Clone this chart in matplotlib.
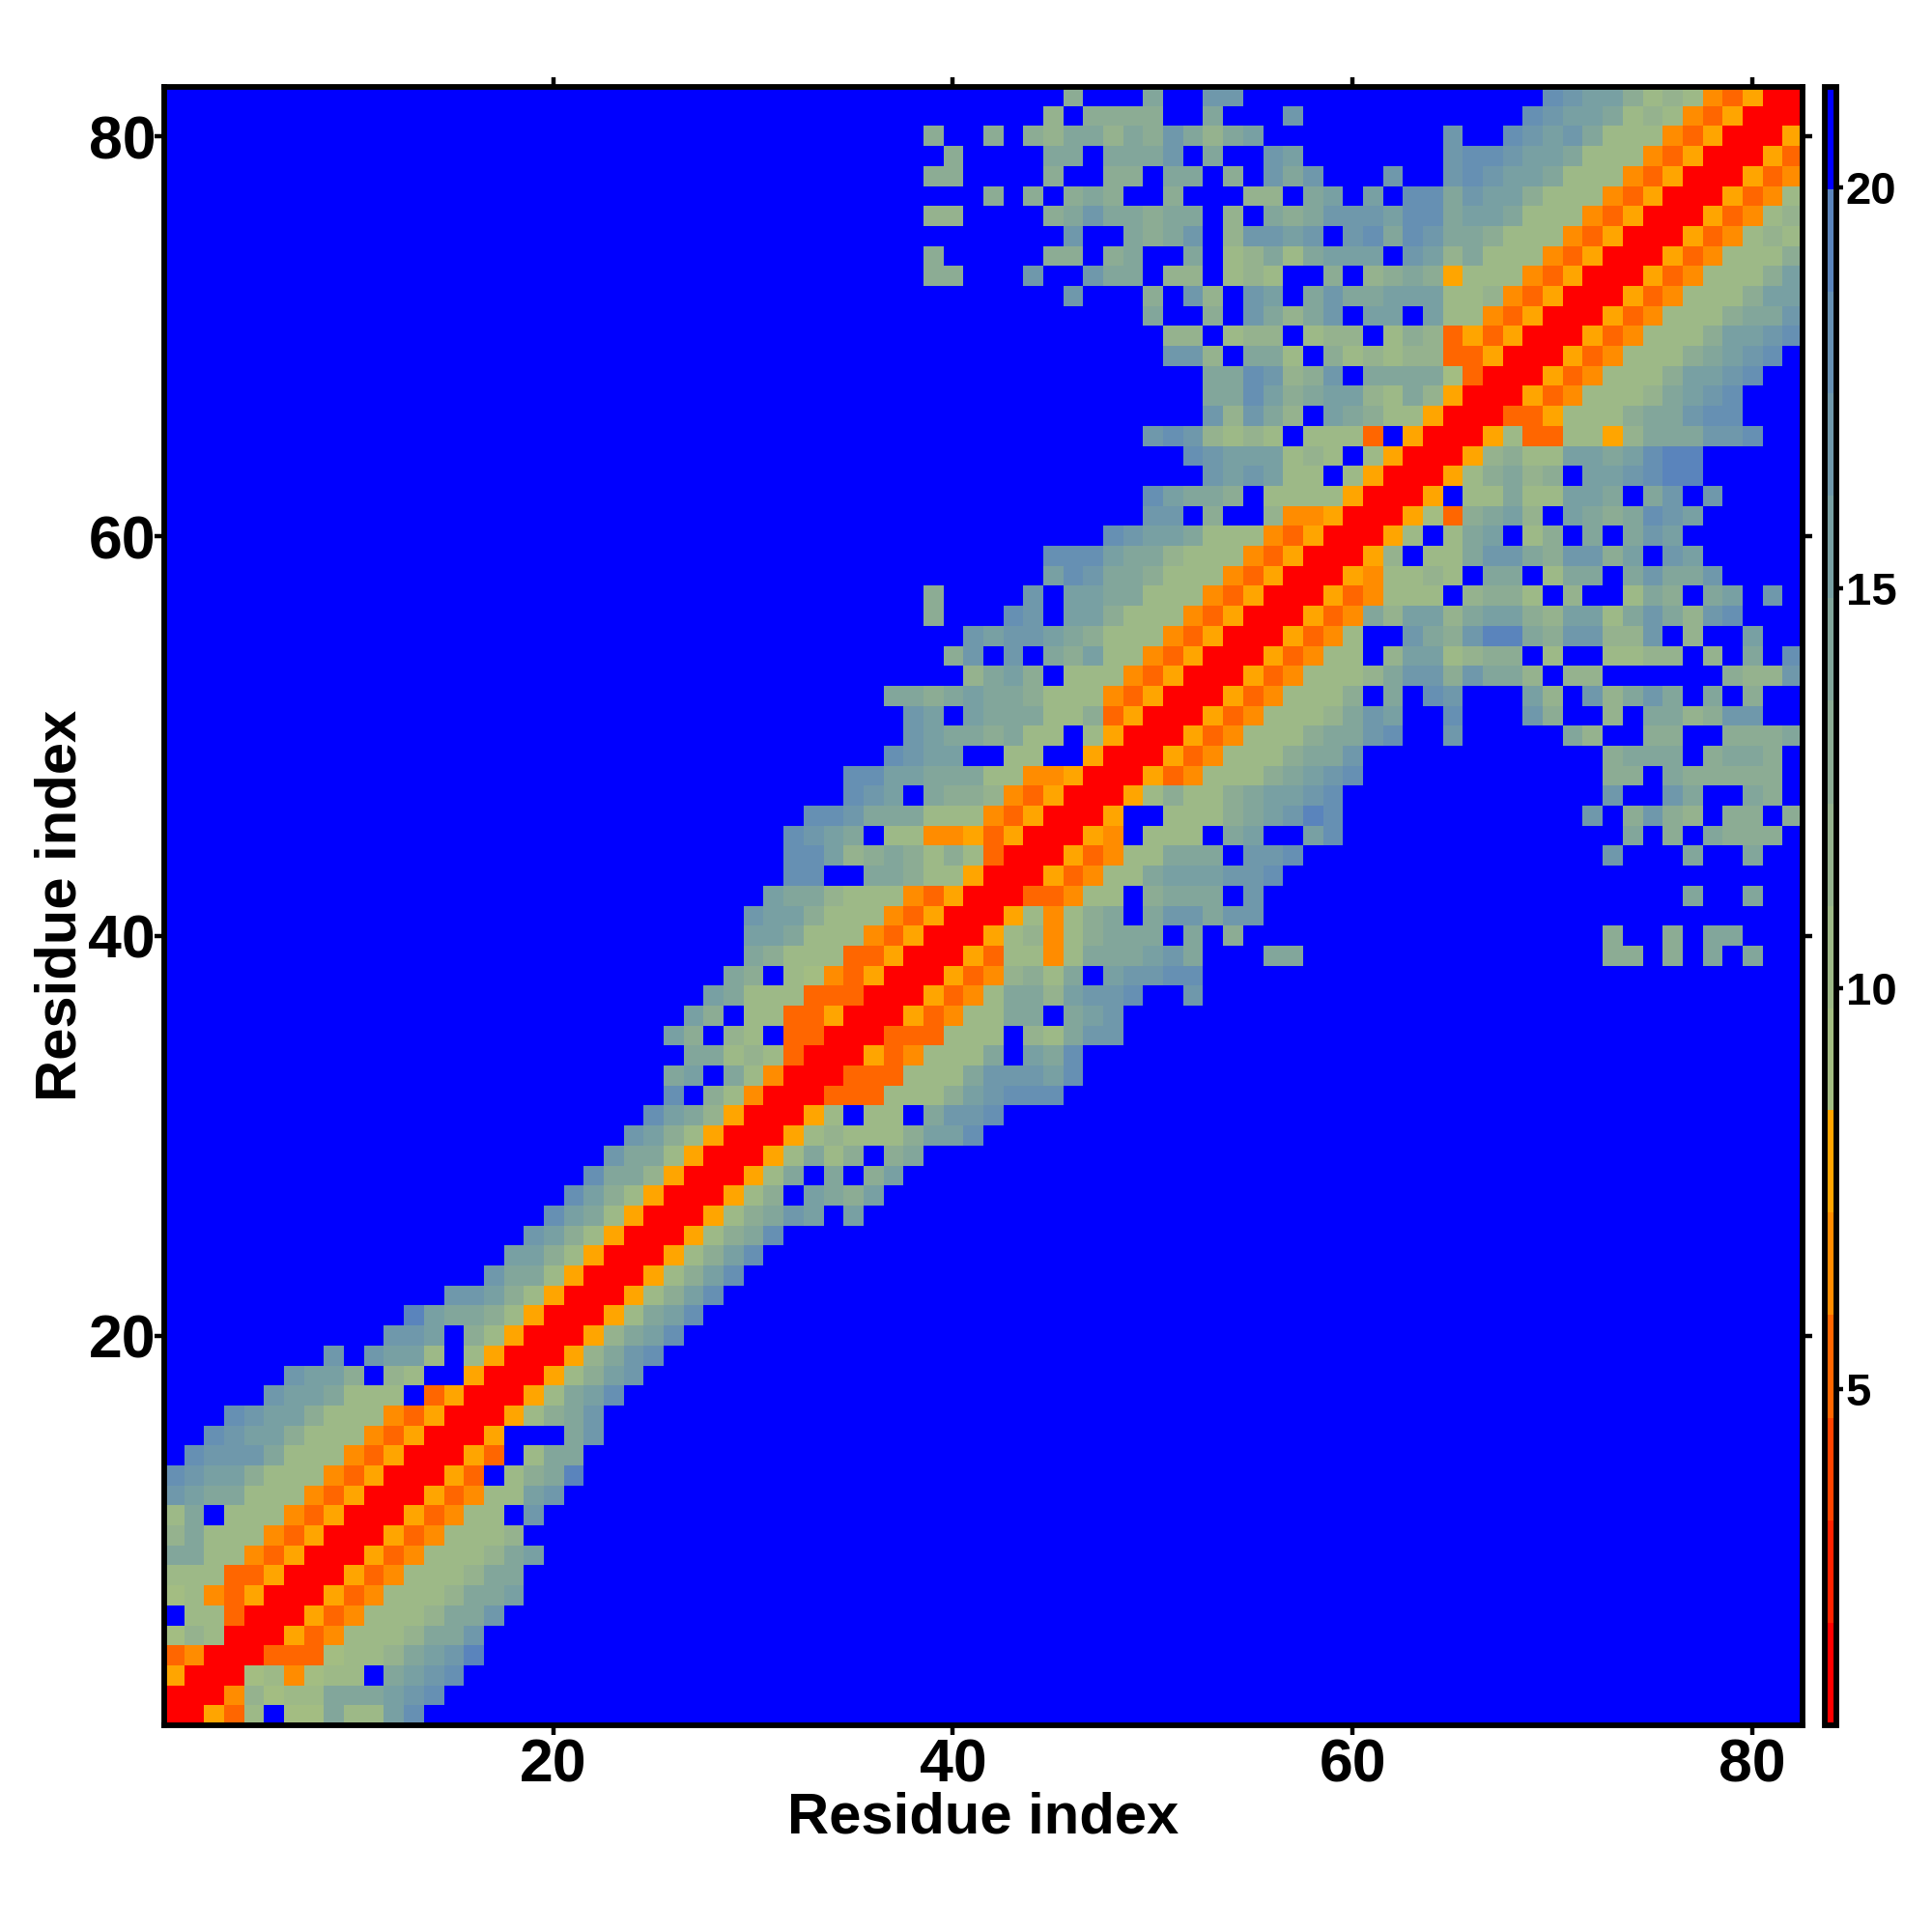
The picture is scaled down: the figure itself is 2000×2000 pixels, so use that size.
import matplotlib
matplotlib.use('Agg')
import matplotlib.pyplot as plt
from matplotlib.colors import ListedColormap, BoundaryNorm
import numpy as np

plt.rcParams['font.family'] = ['Liberation Sans', 'DejaVu Sans']
plt.rcParams['font.weight'] = 'bold'

n_res = 82

# colour bands of the scale, bottom to top
band_edges = [0.80, 2.08, 3.36, 4.64, 5.92, 7.20, 8.48, 9.75, 11.03, 12.31,
              13.59, 14.87, 16.15, 17.43, 18.70, 19.98, 21.26]
band_values = [1.5, 2.7, 4.0, 5.3, 6.6, 7.8, 9.1, 10.4, 11.7, 12.9,
               14.2, 15.5, 16.8, 18.0, 19.3, 20.6]
band_colors = ['#ff0000', '#ff2200', '#ff4400', '#ff6600', '#ff8c00', '#ffa500',
               '#a3bd82', '#9db987', '#95b28e', '#8cac94', '#82a69b', '#78a0a3',
               '#6f98ab', '#6690b3', '#5a84bc', '#0000ff']
band_codes = '012345' + '6789abcde' + '.'

# one character per cell (index into band_codes), (first column, cells) per residue row
rows = {
    1: [(1, "00537.66a77bd")],
    2: [(1, "00048677aaabcd")],
    3: [(1, "5000674677.abcd")],
    4: [(1, "340003336778abce")],
    5: [(1, "6870005347778aac")],
    6: [(1, ".7730005347778aac")],
    7: [(1, "674350005347778aab")],
    8: [(1, "7773350005347778aa")],
    9: [(1, "aa774350005347778ab")],
    10: [(1, "8a7774350005347778")],
    11: [(1, "7a.77743500053477.c")],
    12: [(1, "cbaa77743500053477bc")],
    13: [(1, "dcbb977743500053.79ae")],
    14: [(1, ".dccca77743500053.7aa")],
    15: [(1, "..dcbb97774350005...ac")],
    16: [(1, "...dcbb9777435000579ac")],
    17: [(6, "cbba777.3500057abd")],
    18: [(7, "cbb9.87..5000579bc")],
    19: [(9, "c.cbb7.7500058acd")],
    20: [(12, "ccb.97500058abd")],
    21: [(13, "ebaa97500057abd")],
    22: [(15, "ccb975000579bd")],
    23: [(17, "caa75000579bd")],
    24: [(18, "bb975000579bd")],
    25: [(19, "cb975000579ad")],
    26: [(20, "dba75000579acb.b")],
    27: [(21, "db975000579.ba9b")],
    28: [(22, "daa8500057a.a.9b")],
    29: [(23, "caa7500057a79.9a")],
    30: [(24, "cb9750005787779bbd")],
    31: [(25, "dba8500057.77.accd")],
    32: [(26, "d.9740003337779bcddd")],
    33: [(26, "ab.a74000333777acccbd")],
    34: [(27, "aa7873000534777a.bad")],
    35: [(26, "b9.87.33000333777.87acc")],
    36: [(27, "b9.7733500053477aa.abc")],
    37: [(28, "ba7773330005347aa8bccd..c")],
    38: [(29, "a9.76435000534897a.bccdd")],
    39: [(30, "a9777335000537747aaabca...aa"), (73, "99.9"), (78, "a"), (80, "a")],
    40: [(30, "bba777435000578479aaa.a.9"), (73, "9"), (76, "9"), (78, "aa")],
    41: [(30, "cbb977743500057479a.accacc")],
    42: [(31, "baa877743500033477.9aaa.c"), (77, "a"), (80, "a")],
    43: [(32, "dd..aa977500053477abbbccd")],
    44: [(32, "ddb89a9797300053477aaa.ccd"), (73, "c"), (77, "a"), (80, "a")],
    45: [(32, "dcba.774453500054.777.ab..bd"), (74, "a.9.a999")],
    46: [(33, "ddcaaa7774350005..7779abced"), (72, "c.9c98.99.9")],
    47: [(35, "dcb.a998435000579779abbcd"), (73, "c..ca..a9")],
    48: [(35, "ddbbaaa774450005347779abcd"), (73, "99.a99999")],
    49: [(37, "dcbb..77..50005347779aac"), (73, "9aaa.9aa9")],
    50: [(38, "cbaa9a77.750005347779aacd"), (65, "c"), (71, "a8..99..999a")],
    51: [(38, "cb.baaa779350005347778acb"), (65, "d"), (69, "c9..8.aa89cc")],
    52: [(37, "aa9abaa97774350005347779.a.dc"), (69, "b8.c8aca.a.9")],
    53: [(41, "8ab9.7774350005347778acc9caa8.88"), (79, "988c")],
    54: [(40, "9c.c.a9b7743500053477.8bb7899.7..7788.8.a.d")],
    55: [(41, "cbccba97774350005347..ca9ceea9cc88c.8..b")],
    56: [(39, "9...dc.bb9777435000534a8bb8abb98bb7aca8cd")],
    57: [(39, "9"), (44, "c.bbaa777435000534777.8997.8..7a9.ab.c")],
    58: [(45, "bdcaa9777435000547787.aa.7aa.acaac")],
    59: [(45, "dddbaa877743500058.77acca9cc9b.cb")],
    60: [(48, "dcbba77743500057.7ab.79.a.acb")],
    61: [(50, "cc.9..84450005639ab8.ba9adcb")],
    62: [(50, "dbaa9.777750005.77a77bba.ac.c")],
    63: [(53, "cbcb77.75000579a89.bbcdee")],
    64: [(52, "dcbbb787.7500058977bbabdee")],
    65: [(50, "cdc8787.7773.500057337758aaaccd")],
    66: [(53, "c8ca8.ba97750003357779aacdd")],
    67: [(53, "aadb9abb87a850005347778abcd")],
    68: [(53, "aadc89c.aaaa630005347779bbcd")],
    69: [(51, "cc8.aa7.9787883350005347779abcd")],
    70: [(51, "88.788.788.79835350005347779bbcd")],
    71: [(50, "a..9.ca8ac.bb.b774350005347779aac")],
    72: [(46, "c"), (50, "9.c8.cb.acaabbb7784350005347779bb")],
    73: [(39, "99"), (44, "c..caa.88.787..9.89a957774350005347779b")],
    74: [(39, "9"), (45, "99.9a..a.78a7abbb.cb8a7774350005347779")],
    75: [(46, "c..a9ac.8ccbc.cdadcaa9777435000534787")],
    76: [(39, "88"), (45, "9acaa9aa.8.a9acccbddabba77743500053478")],
    77: [(42, "9"), (44, "9.9a9..9...88.ab.b.ddacbb97774350005347")],
    78: [(39, "99"), (45, "9..99.aa.9.cac"), (62, "c"), (65, "cdcbba777435000534")],
    79: [(40, "9"), (45, "aa.aaac.a..cb"), (65, "cddcbba77743500053")],
    80: [(39, "9"), (42, "9"), (44, "98aa8a9ca8ab"), (65, "c"), (68, "dcbca7774350005")],
    81: [(45, "8.9999..a...c"), (69, "dcbba787435000")],
    82: [(46, "9...a..cc"), (70, "dcbb978743500")],
}

cbar_ticks = [5, 10, 15, 20]
axis_ticks = [20, 40, 60, 80]

grid = np.full((n_res, n_res), band_values[-1])
for res, parts in rows.items():
    for first, cells in parts:
        for i, c in enumerate(cells):
            grid[res - 1, first - 1 + i] = band_values[band_codes.index(c)]

cmap = ListedColormap(band_colors)
norm = BoundaryNorm(band_edges, cmap.N)

fig = plt.figure(figsize=(10, 10), dpi=200)
ax = fig.add_axes([169.5 / 2000, 1 - 1786 / 2000, (1865.5 - 169.5) / 2000, (1786 - 89.5) / 2000])
im = ax.imshow(grid, origin='lower', cmap=cmap, norm=norm, aspect='auto',
               interpolation='nearest', extent=(0.5, 82.5, 0.5, 82.5))

ax.set_xticks(axis_ticks)
ax.set_yticks(axis_ticks)
ax.tick_params(top=True, right=True, length=3.5, width=1.6, labelsize=22.5)
ax.tick_params(axis='x', pad=1)
ax.tick_params(axis='y', pad=-0.5)
ax.set_xlabel('Residue index', fontsize=21.5, fontweight='bold', labelpad=-1)
ax.set_ylabel('Residue index', fontsize=21.5, fontweight='bold', labelpad=0.4)
for spine in ax.spines.values():
    spine.set_linewidth(2.1)

cax = fig.add_axes([1889 / 2000, 1 - 1786 / 2000, 12 / 2000, (1786 - 89.5) / 2000])
cbar = fig.colorbar(im, cax=cax, ticks=cbar_ticks, spacing='proportional')
cbar.ax.tick_params(length=2.5, width=1.6, labelsize=17, pad=1)
cbar.ax.minorticks_off()
cbar.outline.set_linewidth(2.1)

plt.savefig('out.png', dpi=200)
